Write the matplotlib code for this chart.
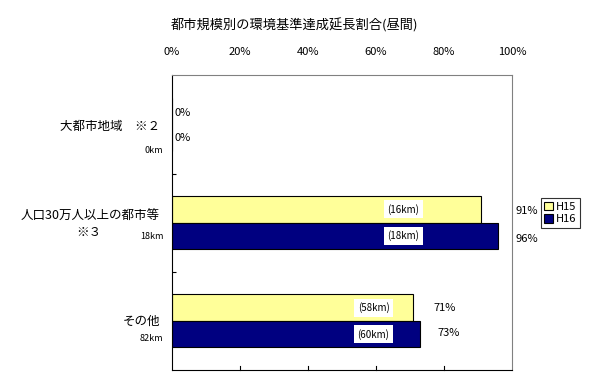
import matplotlib
matplotlib.use('Agg')
import matplotlib.pyplot as plt
import numpy as np

plt.rcParams['font.family'] = ['Noto Sans CJK JP', 'DejaVu Sans']

categories = ['大都市地域　※２', '人口30万人以上の都市等', 'その他']
total_km = ['0km', '18km', '82km']
h15 = [0, 91, 71]
h16 = [0, 96, 73]
h15_km = ['', '(16km)', '(58km)']
h16_km = ['', '(18km)', '(60km)']
series_names = ['H15', 'H16']
x_ticks = [0, 20, 40, 60, 80, 100]

fig = plt.figure(figsize=(5.89, 3.78), dpi=100)
ax = fig.add_axes([0.292, 0.021, 0.577, 0.780])

y = np.arange(len(categories))
bh = 0.27
ax.barh(y - bh / 2, h15, height=bh, color='#FFFF99', edgecolor='black', linewidth=0.8, label=series_names[0])
ax.barh(y + bh / 2, h16, height=bh, color='#000080', edgecolor='black', linewidth=0.8, label=series_names[1])

ax.set_xlim(0, 100)
ax.set_ylim(2.5, -0.5)
ax.xaxis.tick_top()
ax.set_xticks(x_ticks)
ax.set_xticklabels([f'{v}%' for v in x_ticks], fontsize=8)
ax.tick_params(axis='x', length=0, pad=13)
ax.set_yticks([0.5, 1.5])
ax.set_yticklabels([])
ax.tick_params(axis='y', direction='in', length=3)

for s in ['top', 'right']:
    ax.spines[s].set_color('#808080')
ax.spines['left'].set_color('black')
ax.spines['bottom'].set_color('black')
# bottom tick marks pointing inwards
for v in x_ticks[1:-1]:
    ax.plot([v, v], [2.5, 2.46], color='black', lw=0.8, clip_on=False)

# percentage labels (positions follow the original)
pct_pos = [(0.6, -0.12, 0.6, 0.14), (101, -0.12, 101, 0.17), (77, -0.13, 78, 0.12)]
for i, (xa, ya, xb, yb) in enumerate(pct_pos):
    ax.text(xa, i + ya, f'{h15[i]}%', fontsize=8, va='center', ha='left', clip_on=False)
    ax.text(xb, i + yb, f'{h16[i]}%', fontsize=8, va='center', ha='left', clip_on=False)

# km boxes inside bars
box_x = [0, 68, 59.3]
for i in range(1, 3):
    ax.text(box_x[i], i - bh / 2, h15_km[i], fontsize=7, ha='center', va='center',
            bbox=dict(facecolor='white', edgecolor='none', pad=2.5))
    ax.text(box_x[i], i + bh / 2, h16_km[i], fontsize=7, ha='center', va='center',
            bbox=dict(facecolor='white', edgecolor='none', pad=2.5))

# category labels on the left
trans = ax.get_yaxis_transform()
xl = -0.035
ax.text(xl, 0.02, categories[0], transform=trans, fontsize=9, ha='right', va='center')
ax.text(xl, 0.94, categories[1], transform=trans, fontsize=9, ha='right', va='center')
ax.text(-0.245, 1.1, '※３', transform=trans, fontsize=9, ha='center', va='center')
ax.text(xl, 2.0, categories[2], transform=trans, fontsize=9, ha='right', va='center')

km_y = [0.27, 0.14, 0.18]
for i, lab in enumerate(total_km):
    ax.text(-0.025, i + km_y[i], lab, transform=trans, fontsize=6.5, ha='right', va='center')

ax.set_title('都市規模別の環境基準達成延長割合(昼間)', fontsize=9.5, pad=33, x=0.36)

leg = ax.legend(loc='upper left', bbox_to_anchor=(0.918, 0.475), bbox_transform=fig.transFigure,
                fontsize=8, frameon=True, fancybox=False, handlelength=0.8, handleheight=0.8,
                handletextpad=0.3, borderpad=0.3, labelspacing=0.2, borderaxespad=0)
leg.get_frame().set_edgecolor('black')
leg.get_frame().set_linewidth(0.8)

fig.savefig('out.png', dpi=100)
